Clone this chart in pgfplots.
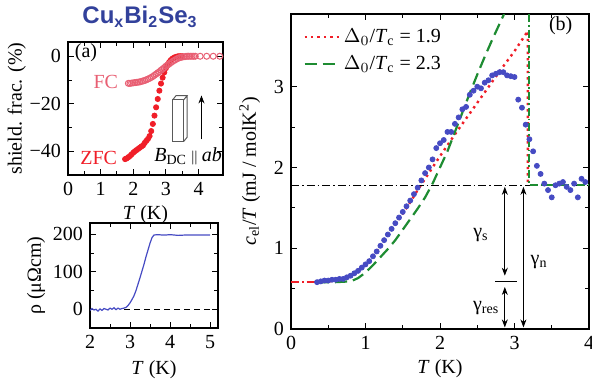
\documentclass[border=0pt]{standalone}
\usepackage{fontspec}
\setmainfont{Liberation Serif}
\setsansfont{Liberation Sans}
\newfontfamily\tms{Liberation Serif}
\usepackage{pgfplots}
\pgfplotsset{compat=1.18}
\usetikzlibrary{arrows.meta}
\definecolor{dblue}{RGB}{70,75,195}
\definecolor{mred}{RGB}{240,30,40}
\definecolor{mgreen}{RGB}{30,140,50}
\definecolor{fcpink}{RGB}{232,95,115}
\definecolor{titleblue}{RGB}{50,65,155}
\pgfplotsset{mystyle/.style={scale only axis, anchor=south west, tick align=inside,
  xtick pos=both, ytick pos=both, /pgf/number format/assume math mode=true,
  ticklabel style={font=\tms\fontsize{10}{12}\selectfont},
  label style={font=\tms\fontsize{10}{12}\selectfont},
  major tick length=3pt, minor tick length=1.8pt, minor tick num=1,
  tick style={black, line width=0.5pt}, axis line style={line width=0.6pt}}}
\begin{document}
\begin{tikzpicture}
\useasboundingbox (0,0) rectangle (296pt,190.5pt);
\node[font=\sffamily\bfseries\fontsize{12}{14}\selectfont, text=titleblue] at (70pt,182pt) {Cu\textsubscript{x}Bi\textsubscript{2}Se\textsubscript{3}};
% ---------- panel (a)
\begin{axis}[mystyle, at={(34pt,103pt)}, width=77.5pt, height=66.5pt,
  xmin=0, xmax=4.75, ymin=-50, ymax=6,
  xtick={0,1,2,3,4}, ytick={-40,-20,0}, yticklabels={−40,−20,0},
  minor ytick={-30,-10}, 
  xlabel={\textit{T} (K)}, ylabel={shield. frac. (\%)},
  xlabel style={yshift=2pt}, ylabel style={yshift=-5pt}]
\addplot[only marks, mark=*, mark size=1.3pt, color=mred] coordinates {
(1.75,-43.3) (1.8,-43) (1.85,-42.5) (1.9,-42) (1.95,-41.3) (2.0,-40.6) (2.05,-40) (2.1,-39.5) (2.15,-39) (2.2,-38.5) (2.25,-38) (2.3,-37.5) (2.35,-36.5) (2.4,-35.6) (2.45,-34.8) (2.5,-33.6) (2.55,-31.5) (2.6,-28.5) (2.65,-25) (2.7,-21.5) (2.75,-18) (2.8,-14.5) (2.85,-11.5) (2.9,-9) (2.95,-6.8) (3.0,-5) (3.05,-3.6) (3.1,-2.5) (3.15,-1.6) (3.2,-1) (3.25,-0.6) (3.3,-0.3) (3.35,-0.1) (3.4,0) (3.45,0) (3.5,0)};
\addplot[only marks, mark=o, mark size=1.5pt, color=fcpink, mark options={line width=0.5pt}] coordinates {
(1.85,-11.4) (1.9,-11.4) (1.95,-11.3) (2.0,-11.2) (2.05,-11.1) (2.1,-11.0) (2.15,-10.9) (2.2,-10.8) (2.25,-10.6) (2.3,-10.4) (2.35,-10.2) (2.4,-9.9) (2.45,-9.6) (2.5,-9.3) (2.55,-8.9) (2.6,-8.5) (2.65,-8.0) (2.7,-7.5) (2.75,-7.0) (2.8,-6.5) (2.85,-5.9) (2.9,-5.4) (2.95,-4.8) (3.0,-4.2) (3.05,-3.7) (3.1,-3.2) (3.15,-2.7) (3.2,-2.2) (3.25,-1.8) (3.3,-1.4) (3.35,-1.0) (3.4,-0.7) (3.45,-0.5) (3.5,-0.3) (3.55,-0.2) (3.6,-0.1) (3.65,0) (3.7,0) (3.75,0) (3.8,0) (3.85,0) (3.9,0) (4.05,0) (4.25,0) (4.45,0) (4.65,0)};
\node[font=\tms\fontsize{10}{12}\selectfont] at (axis cs:0.55,1.5) {(a)};
\node[font=\tms\fontsize{10}{12}\selectfont, text=fcpink, anchor=east] at (axis cs:1.75,-11) {FC};
\node[font=\tms\fontsize{10}{12}\selectfont, text=mred, anchor=east] at (axis cs:1.72,-43) {ZFC};
% prism
\draw[gray!70!black, line width=0.5pt, fill=white] (axis cs:3.21,-35.8) rectangle (axis cs:3.55,-18.3);
\draw[gray!70!black, line width=0.5pt] (axis cs:3.21,-18.3) -- (axis cs:3.31,-16.6) -- (axis cs:3.65,-16.6) -- (axis cs:3.55,-18.3)
  (axis cs:3.65,-16.6) -- (axis cs:3.65,-34.1) -- (axis cs:3.55,-35.8);
\draw[-{Stealth[length=4pt,width=3pt]}, line width=0.4pt] (axis cs:4.09,-35) -- (axis cs:4.09,-16.5);
\node[font=\tms\fontsize{10}{12}\selectfont] at (axis cs:3.68,-42) {\textit{B}\textsubscript{DC}$\,\scriptstyle\parallel$\,\textit{ab}};
\end{axis}
% ---------- resistivity panel
\begin{axis}[mystyle, at={(45pt,26.5pt)}, width=64pt, height=52.5pt,
  xmin=2, xmax=5.2, ymin=-50, ymax=230,
  xtick={2,3,4,5}, ytick={0,100,200},
  xlabel={\textit{T} (K)}, ylabel={ρ (μΩcm)},
  xlabel style={yshift=1pt}, ylabel style={yshift=-3pt}]
\addplot[black, densely dashed, line width=0.5pt] coordinates {(2.85,0) (5.1,0)};
\addplot[dblue, line width=0.6pt] coordinates {
(2.0,-3) (2.05,2) (2.1,-2) (2.15,0) (2.2,-5) (2.25,1) (2.3,-3) (2.35,2) (2.4,0) (2.45,-2) (2.5,3) (2.55,0) (2.6,4) (2.65,-1) (2.7,3) (2.75,0) (2.8,2) (2.85,3) (2.9,5) (2.95,10) (3.0,17) (3.05,26) (3.1,36) (3.15,50) (3.2,67) (3.25,84) (3.3,102) (3.35,120) (3.4,140) (3.45,158) (3.5,176) (3.55,191) (3.6,198) (3.7,199) (3.8,198) (3.9,198) (4.0,199) (4.2,197) (4.4,198) (4.6,198) (4.8,198) (5.0,198)};
\end{axis}
% ---------- main panel (b)
\begin{axis}[mystyle, at={(145.5pt,26pt)}, width=149pt, height=157.5pt,
  xmin=0, xmax=4, ymin=0, ymax=3.9,
  xtick={0,1,2,3,4}, ytick={0,1,2,3},
  xlabel={\textit{T} (K)}, ylabel={\textit{c}\textsubscript{el}/\textit{T} (mJ / molK\textsuperscript{2})},
  xlabel style={yshift=2pt}, ylabel style={yshift=0pt},
  legend style={draw=none, fill=none, at={(0.02,0.98)}, anchor=north west, font=\tms\fontsize{10}{12}\selectfont, row sep=1pt},
  legend cell align=left]
\addplot[mred, dotted, line width=1.2pt] coordinates {
(0.35,0.58) (0.5,0.59) (0.6,0.60) (0.7,0.62) (0.8,0.66) (0.9,0.72) (1.0,0.80) (1.1,0.90) (1.2,1.02) (1.3,1.15) (1.4,1.29) (1.5,1.43) (1.6,1.57) (1.7,1.72) (1.8,1.86) (1.9,2.00) (2.0,2.14) (2.2,2.41) (2.4,2.67) (2.6,2.93) (2.8,3.19) (3.0,3.44) (3.18,3.69) (3.18,1.78)};
\addlegendentry{$\Delta_0$/\textit{T}\textsubscript{c} = 1.9}
\addplot[mgreen, dash pattern=on 6pt off 3pt, line width=1.1pt] coordinates {
(0.35,0.58) (0.6,0.58) (0.8,0.59) (0.9,0.63) (1.0,0.70) (1.1,0.79) (1.2,0.89) (1.3,0.99) (1.4,1.10) (1.5,1.23) (1.6,1.36) (1.7,1.49) (1.8,1.63) (1.9,1.80) (2.0,2.00) (2.1,2.20) (2.2,2.44) (2.3,2.68) (2.4,2.92) (2.5,3.15) (2.6,3.37) (2.7,3.58) (2.8,3.78) (2.86,3.9)};
\addlegendentry{$\Delta_0$/\textit{T}\textsubscript{c} = 2.3}
\addplot[black, dash pattern=on 4pt off 1.5pt on 0.8pt off 1.5pt, line width=0.4pt, forget plot] coordinates {(0,1.78) (4,1.78)};
\addplot[mgreen, dash pattern=on 4pt off 1.5pt on 0.8pt off 1.5pt, line width=1pt, forget plot] coordinates {(3.2,3.9) (3.2,1.78) (4,1.78)};
\addplot[mred, dash pattern=on 4pt off 1.5pt on 0.8pt off 1.5pt, line width=0.8pt, forget plot] coordinates {(0,0.58) (0.35,0.58)};
\addplot[only marks, mark=*, mark size=1.25pt, color=dblue, forget plot] coordinates {
(0.35,0.58) (0.40,0.59) (0.45,0.60) (0.50,0.60) (0.55,0.61) (0.60,0.61) (0.65,0.62) (0.70,0.62) (0.75,0.64) (0.80,0.66) (0.85,0.69) (0.90,0.72) (0.95,0.76) (1.00,0.80) (1.05,0.84) (1.10,0.90) (1.15,0.96) (1.20,1.03) (1.25,1.10) (1.30,1.17) (1.35,1.24) (1.40,1.31) (1.45,1.38) (1.50,1.45) (1.55,1.52) (1.60,1.59) (1.65,1.67) (1.70,1.75) (1.75,1.84) (1.80,1.93) (1.85,2.00) (1.90,2.10) (1.95,2.24) (2.00,2.30) (2.05,2.34) (2.10,2.44) (2.15,2.44) (2.20,2.54) (2.25,2.62) (2.30,2.72) (2.35,2.75) (2.40,2.90) (2.45,2.95) (2.50,3.00) (2.55,2.98) (2.60,3.05) (2.65,3.08) (2.70,3.14) (2.75,3.16) (2.80,3.18) (2.85,3.18) (2.90,3.14) (2.95,3.13) (3.00,3.12) (3.05,2.84) (3.10,2.74) (3.15,2.53) (3.20,2.35) (3.25,2.20) (3.30,2.02) (3.35,1.92) (3.40,1.80) (3.45,1.72) (3.50,1.63) (3.55,1.78) (3.60,1.80) (3.65,1.82) (3.70,1.76) (3.75,1.72) (3.80,1.80) (3.85,1.63) (3.90,1.86) (3.95,1.82)};
% annotations
\draw[{Stealth[length=4pt,width=3pt]}-{Stealth[length=4pt,width=3pt]}, line width=0.4pt] (axis cs:2.87,1.76) -- (axis cs:2.87,0.66);
\draw[{Stealth[length=4pt,width=3pt]}-{Stealth[length=4pt,width=3pt]}, line width=0.4pt] (axis cs:2.87,0.52) -- (axis cs:2.87,0.02);
\draw[line width=0.8pt] (axis cs:2.74,0.59) -- (axis cs:3.03,0.59);
\draw[{Stealth[length=4pt,width=3pt]}-{Stealth[length=4pt,width=3pt]}, line width=0.4pt] (axis cs:3.12,1.76) -- (axis cs:3.12,0.02);
\node[font=\tms\fontsize{10}{12}\selectfont] at (axis cs:2.55,1.16) {γ\textsubscript{s}};
\node[font=\tms\fontsize{10}{12}\selectfont] at (axis cs:3.33,0.83) {γ\textsubscript{n}};
\node[font=\tms\fontsize{10}{12}\selectfont] at (axis cs:2.62,0.26) {γ\textsubscript{res}};
\node[font=\tms\fontsize{10}{12}\selectfont] at (axis cs:3.62,3.75) {(b)};
\end{axis}
\end{tikzpicture}
\end{document}
